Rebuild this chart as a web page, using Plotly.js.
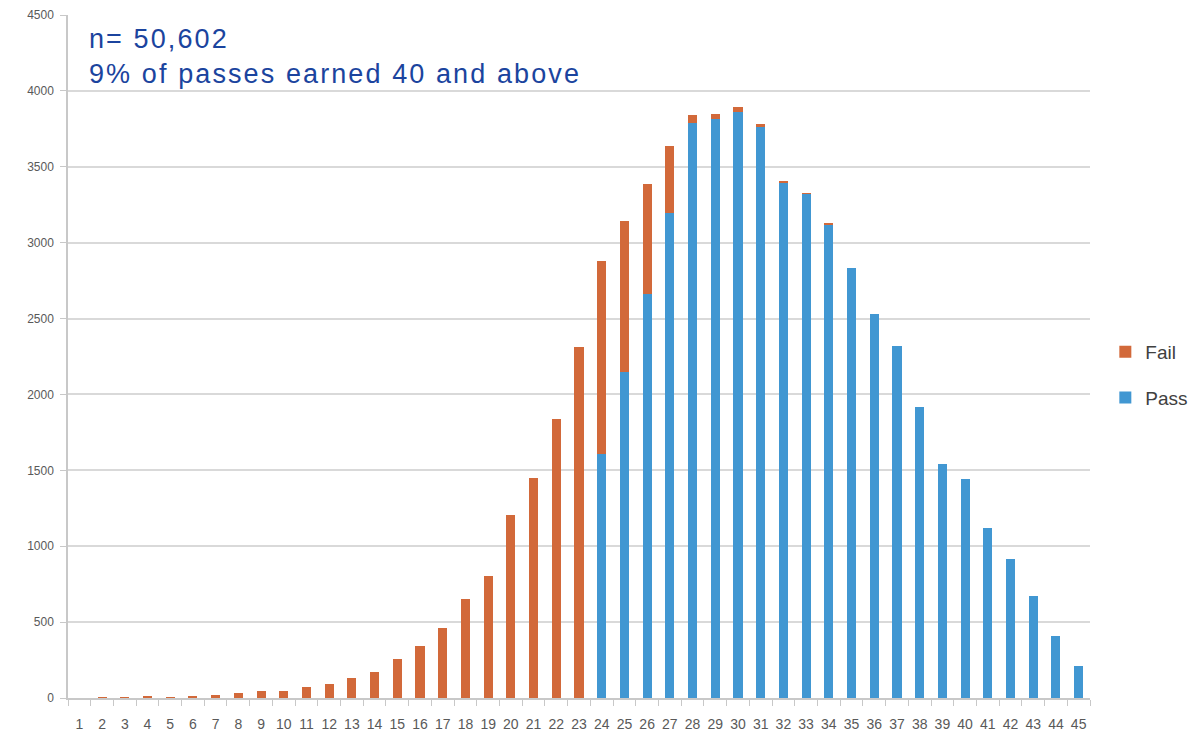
<!DOCTYPE html>
<html>
<head>
<meta charset="utf-8">
<script src="https://cdn.plot.ly/plotly-3.0.1.min.js"></script>
<style>
html,body{margin:0;padding:0;background:#fff;}
#chart{width:1196px;height:736px;}
.annotation-text{letter-spacing:2.1px;}
</style>
</head>
<body>
<div id="chart"></div>
<script>
const scores = ["1","2","3","4","5","6","7","8","9","10","11","12","13","14","15","16","17","18","19","20","21","22","23","24","25","26","27","28","29","30","31","32","33","34","35","36","37","38","39","40","41","42","43","44","45"];
const passCounts = [0,0,0,0,0,0,0,0,0,0,0,0,0,0,0,0,0,0,0,0,0,0,0,1605,2150,2665,3195,3790,3818,3862,3763,3395,3322,3122,2835,2530,2320,1920,1540,1445,1120,915,675,410,210];
const failCounts = [0,3,3,14,4,12,20,35,45,45,75,95,135,170,255,340,460,655,805,1205,1450,1835,2315,1275,990,720,440,52,27,30,20,5,3,8,0,0,0,0,0,0,0,0,0,0,0];
const yTicks = [0,500,1000,1500,2000,2500,3000,3500,4000,4500];

const pass = {
  type:'bar', name:'Pass', x:scores, y:passCounts, legendgroup:'p', legendrank:2,
  marker:{color:'#4197D2'}, hoverinfo:'x+y+name'
};
const fail = {
  type:'bar', name:'Fail', x:scores, y:failCounts, legendgroup:'f', legendrank:1,
  marker:{color:'#D2693A'}, hoverinfo:'x+y+name'
};

const layout = {
  width:1196, height:736,
  margin:{l:68, r:106, t:15, b:38, autoexpand:false},
  barmode:'stack', bargap:0.6,
  paper_bgcolor:'#fff', plot_bgcolor:'#fff',
  font:{family:'Liberation Sans, Arial, sans-serif', color:'#595959'},
  xaxis:{
    type:'category', tickson:'boundaries', ticks:'outside', ticklen:6, tickangle:0,
    tickcolor:'#c8c8c8', showline:true, linecolor:'#c8c8c8', linewidth:1.5,
    tickfont:{size:14, color:'#595959', family:'Liberation Sans Narrow, Liberation Sans, sans-serif'},
    ticklabelstandoff:12,
    showgrid:false, fixedrange:true
  },
  yaxis:{
    range:[0,4500], tickvals:yTicks, ticks:'outside', ticklen:6, tickcolor:'#c8c8c8',
    showline:true, linecolor:'#c8c8c8', linewidth:1.5,
    gridcolor:'#d9d9d9', gridwidth:1.5, zeroline:false,
    tickfont:{size:12, color:'#595959'}, ticklabelstandoff:4
  },
  legend:{
    x:1.015, xanchor:'left', y:0.473, yanchor:'middle',
    traceorder:'grouped', font:{size:19, color:'#404040', family:'Liberation Sans, Arial, sans-serif'},
    tracegroupgap:18, itemwidth:30
  },
  annotations:[
    {xref:'paper', yref:'paper', x:0.019, y:0.99, xanchor:'left', yanchor:'top', showarrow:false,
     align:'left', text:'n= 50,602<br>9% of passes earned 40 and above',
     font:{size:27, color:'#1B449E', family:'Liberation Sans, Arial, sans-serif'}}
  ],
  showlegend:true
};

Plotly.newPlot('chart',[pass, fail],layout,{displayModeBar:false});
</script>
</body>
</html>
